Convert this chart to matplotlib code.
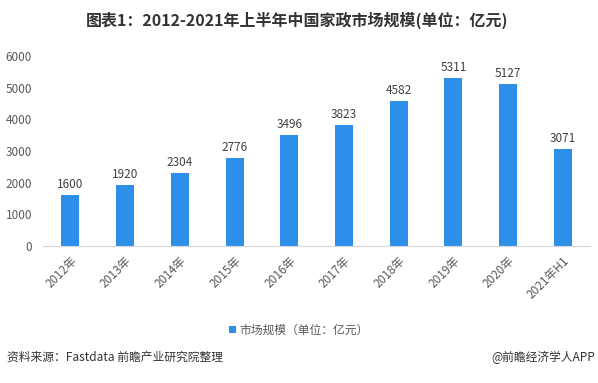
import matplotlib
matplotlib.use('Agg')
import matplotlib.pyplot as plt

plt.rcParams['font.family'] = ['Noto Sans CJK SC', 'DejaVu Sans']

years = ['2012年', '2013年', '2014年', '2015年', '2016年', '2017年',
         '2018年', '2019年', '2020年', '2021年H1']
market = [1600, 1920, 2304, 2776, 3496, 3823, 4582, 5311, 5127, 3071]
yticks = [0, 1000, 2000, 3000, 4000, 5000, 6000]

bar_color = '#2E8FEA'
text_color = '#595959'

fig = plt.figure(figsize=(5.98, 3.83), dpi=100)
ax = fig.add_axes([0.072, 0.358, 0.915, 0.496])

x = range(len(years))
bars = ax.bar(x, market, width=0.33, color=bar_color, label='市场规模（单位：亿元）', zorder=2)
for xi, v in zip(x, market):
    ax.text(xi, v + 120, str(v), ha='center', va='bottom', fontsize=8.5, color='#404040')

ax.set_xlim(-0.5, len(years) - 0.5)
ax.set_ylim(0, 6000)
ax.set_yticks(yticks)
ax.set_yticklabels([str(t) for t in yticks], fontsize=8.5, color=text_color)
ax.set_xticks(list(x))
ax.set_xticklabels(years, rotation=45, ha='right', rotation_mode='anchor', fontsize=8.5, color=text_color)
ax.tick_params(axis='both', length=0)
ax.tick_params(axis='y', pad=8)
ax.tick_params(axis='x', pad=6)
for s in ['top', 'right', 'left']:
    ax.spines[s].set_visible(False)
ax.spines['bottom'].set_color('#D9D9D9')

fig.text(0.497, 0.946, '图表1：2012-2021年上半年中国家政市场规模(单位：亿元)', ha='center', va='center',
         fontsize=11.5, fontweight='bold', color='#333333')

fig.legend(handles=[bars], loc='center', bbox_to_anchor=(0.5, 0.138), frameon=False,
           fontsize=8.5, handlelength=0.6, handleheight=0.6, handletextpad=0.3,
           labelcolor=text_color)

fig.text(0.012, 0.068, '资料来源：Fastdata 前瞻产业研究院整理', ha='left', va='center',
         fontsize=8.5, color='#333333')
fig.text(0.995, 0.068, '@前瞻经济学人APP', ha='right', va='center',
         fontsize=8.5, color='#333333')

fig.savefig('out.png', dpi=100)
